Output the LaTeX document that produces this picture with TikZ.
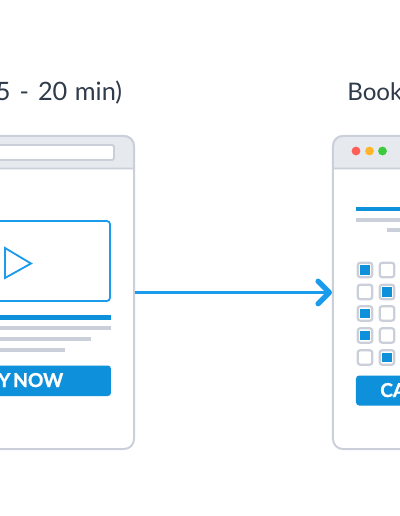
\documentclass[tikz,border=0pt]{standalone}
\usepackage{fontspec}
\setmainfont{Lato}
\newfontfamily\ctafont[BoldFeatures={FakeBold=1.2}]{Lato}
\usepackage{xcolor}
\usetikzlibrary{arrows.meta}
\definecolor{pageink}{HTML}{2F3A4A}
\definecolor{framegrey}{HTML}{CBCFDA}
\definecolor{headgrey}{HTML}{E6E9ED}
\definecolor{flowblue}{HTML}{0E90DB}
\definecolor{linkblue}{HTML}{1A9BEC}
\definecolor{dotred}{HTML}{FF5F57}
\definecolor{dotamber}{HTML}{FFB62E}
\definecolor{dotgreen}{HTML}{3CCB3C}

\begin{document}
\begin{tikzpicture}[x=0.025cm,y=-0.025cm,
  title/.style={font=\fontsize{18}{21}\selectfont,text=pageink,inner sep=0pt},
  window/.style={draw=framegrey,fill=white,line width=1.4pt,rounded corners=0.25cm,minimum width=5.85cm,minimum height=7.825cm,inner sep=0pt},
  head/.style={draw=framegrey,fill=headgrey,line width=1.4pt},
  bar/.style={fill=#1,draw=none},
  cta/.style={fill=flowblue,draw=none,rounded corners=0.08cm},
  ctatext/.style={font=\ctafont\bfseries\fontsize{13.6}{15}\selectfont,text=white,inner sep=0pt},
  tickbox/.style={draw=framegrey,fill=white,line width=1.6pt,rounded corners=0.06cm,minimum size=0.36cm,inner sep=0pt},
  tickfill/.style={fill=flowblue,minimum size=0.23cm,inner sep=0pt},
  dot/.style={circle,fill=#1,minimum size=0.22cm,inner sep=0pt}]
\clip (0,0) rectangle (400,516);
\node[title,anchor=base east] (lefttitle) at (122.5,100) {5\hspace{.1em} -\hspace{.1em} 20\hspace{.04em} min)};
\node[title,anchor=base west,font=\fontsize{17.2}{21}\selectfont] (righttitle) at (347,100) {Book};
\node[window] (leftwin) at (17,292.5) {};
\node[window] (rightwin) at (450,292.5) {};
\draw[head] (134,168.5) {[rounded corners=0.25cm] -- (134,136) -- (-100,136)} -- (-100,168.5) -- cycle;
\draw[head] (567,168.5) {[rounded corners=0.25cm] -- (567,136) -- (333,136)} -- (333,168.5) -- cycle;
\draw[draw=framegrey,fill=white,line width=1.4pt,rounded corners=0.04cm] (-40,145) rectangle (114,160);
\draw[linkblue,line width=1.3pt,rounded corners=0.08cm] (-40,221) rectangle (110,301);
\draw[linkblue,line width=1.3pt,line join=miter] (5,248) -- (31,263.5) -- (5,278) -- cycle;
\path[bar=flowblue] (-40,315) rectangle (111,319.5);
\path[bar=framegrey] (-40,326) rectangle (111,330);
\path[bar=framegrey] (-40,337) rectangle (91,341);
\path[bar=framegrey] (-40,348) rectangle (65,352);
\path[cta] (-40,365.5) rectangle (111,396);
\node[ctatext,anchor=base east] (buynow) at (63.5,387) {UY\hspace{-.1em} NOW};
\node[dot=dotred] (reddot) at (356,151) {};
\node[dot=dotamber] (amberdot) at (369.5,151) {};
\node[dot=dotgreen] (greendot) at (382.5,151) {};
\path[bar=flowblue] (356,206.5) rectangle (420,211);
\path[bar=framegrey] (356,217.5) rectangle (420,221.5);
\path[bar=framegrey] (387,228) rectangle (420,232);
\node[tickbox] (a1) at (365,270) {};
\node[tickbox] (b1) at (387,270) {};
\node[tickbox] (a2) at (365,292) {};
\node[tickbox] (b2) at (387,292) {};
\node[tickbox] (a3) at (365,313.5) {};
\node[tickbox] (b3) at (387,313.5) {};
\node[tickbox] (a4) at (365,335.5) {};
\node[tickbox] (b4) at (387,335.5) {};
\node[tickbox] (a5) at (365,357.5) {};
\node[tickbox] (b5) at (387,357.5) {};
\node[tickfill] (fa1) at (a1) {};
\node[tickfill] (fb2) at (b2) {};
\node[tickfill] (fa3) at (a3) {};
\node[tickfill] (fa4) at (a4) {};
\node[tickfill] (fb5) at (b5) {};
\path[cta] (356,375.5) rectangle (420,405.5);
\node[ctatext,anchor=base west] (cancel) at (380,397) {CA};
\draw[linkblue,line width=2.4pt,-{Straight Barb[round,length=2.8mm,width=5.6mm,line width=3.8pt]}] (leftwin) -- (rightwin);
\end{tikzpicture}
\end{document}
